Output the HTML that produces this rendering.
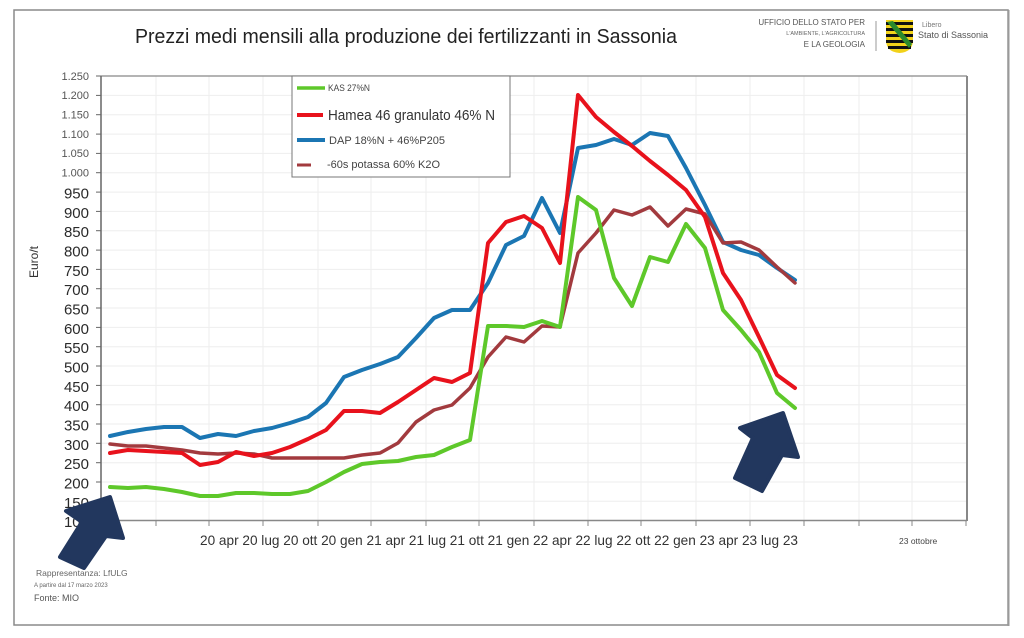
<!DOCTYPE html>
<html><head><meta charset="utf-8"><style>
html,body{margin:0;padding:0;background:#fff;}
svg{display:block;font-family:"Liberation Sans",sans-serif;}
</style></head><body>
<svg width="1024" height="638" viewBox="0 0 1024 638" xmlns="http://www.w3.org/2000/svg">
<rect x="0" y="0" width="1024" height="638" fill="#fff"/>
<!-- outer frame -->
<rect x="14" y="10" width="994" height="615" fill="none" stroke="#8a8a8a" stroke-width="1.5"/>
<line x1="1008.5" y1="10" x2="1008.5" y2="626" stroke="#9a9a9a" stroke-width="2"/>
<!-- title -->
<text x="135" y="43" font-size="20" fill="#222" textLength="542" lengthAdjust="spacingAndGlyphs">Prezzi medi mensili alla produzione dei fertilizzanti in Sassonia</text>
<!-- logo -->
<text x="865" y="25" font-size="8" fill="#555" text-anchor="end">UFFICIO DELLO STATO PER</text>
<text x="865" y="35" font-size="5.5" fill="#666" text-anchor="end">L'AMBIENTE, L'AGRICOLTURA</text>
<text x="865" y="47" font-size="8" fill="#555" text-anchor="end">E LA GEOLOGIA</text>
<line x1="876" y1="21" x2="876" y2="51" stroke="#999" stroke-width="1"/>
<g>
<path d="M886 20 H913 V40 Q913 52 899.5 53 Q886 52 886 40 Z" fill="#f2d21a"/>
<rect x="886" y="22" width="27" height="3" fill="#111"/>
<rect x="886" y="28" width="27" height="3" fill="#111"/>
<rect x="886" y="34" width="27" height="3" fill="#111"/>
<rect x="886" y="40" width="27" height="3" fill="#111"/>
<rect x="888" y="46" width="23" height="3" fill="#111"/>
<path d="M887 22 L893 21 L912 44 L909 48 Z" fill="#2c8a2c"/>
</g>
<text x="922" y="27" font-size="7" fill="#777">Libero</text>
<text x="918" y="38" font-size="9" fill="#555">Stato di Sassonia</text>
<!-- grid -->
<g stroke="#eeeeee" stroke-width="1">
<line x1="101" y1="95.4" x2="966" y2="95.4"/><line x1="101" y1="114.7" x2="966" y2="114.7"/><line x1="101" y1="134.1" x2="966" y2="134.1"/><line x1="101" y1="153.4" x2="966" y2="153.4"/><line x1="101" y1="172.7" x2="966" y2="172.7"/><line x1="101" y1="192.1" x2="966" y2="192.1"/><line x1="101" y1="211.4" x2="966" y2="211.4"/><line x1="101" y1="230.7" x2="966" y2="230.7"/><line x1="101" y1="250.1" x2="966" y2="250.1"/><line x1="101" y1="269.4" x2="966" y2="269.4"/><line x1="101" y1="288.7" x2="966" y2="288.7"/><line x1="101" y1="308" x2="966" y2="308"/><line x1="101" y1="327.4" x2="966" y2="327.4"/><line x1="101" y1="346.7" x2="966" y2="346.7"/><line x1="101" y1="366" x2="966" y2="366"/><line x1="101" y1="385.4" x2="966" y2="385.4"/><line x1="101" y1="404.7" x2="966" y2="404.7"/><line x1="101" y1="424" x2="966" y2="424"/><line x1="101" y1="443.3" x2="966" y2="443.3"/><line x1="101" y1="462.7" x2="966" y2="462.7"/><line x1="101" y1="482" x2="966" y2="482"/><line x1="101" y1="501.3" x2="966" y2="501.3"/>
<line x1="156" y1="76" x2="156" y2="520"/><line x1="209" y1="76" x2="209" y2="520"/><line x1="263" y1="76" x2="263" y2="520"/><line x1="318" y1="76" x2="318" y2="520"/><line x1="371" y1="76" x2="371" y2="520"/><line x1="426" y1="76" x2="426" y2="520"/><line x1="479" y1="76" x2="479" y2="520"/><line x1="534" y1="76" x2="534" y2="520"/><line x1="588" y1="76" x2="588" y2="520"/><line x1="641" y1="76" x2="641" y2="520"/><line x1="696" y1="76" x2="696" y2="520"/><line x1="750" y1="76" x2="750" y2="520"/><line x1="804" y1="76" x2="804" y2="520"/><line x1="859" y1="76" x2="859" y2="520"/><line x1="912" y1="76" x2="912" y2="520"/>
</g>
<!-- plot border -->
<line x1="101" y1="76" x2="967" y2="76" stroke="#888" stroke-width="1.2"/>
<line x1="967" y1="76" x2="967" y2="521" stroke="#888" stroke-width="2"/>
<line x1="101" y1="520.5" x2="967" y2="520.5" stroke="#888" stroke-width="1.5"/>
<line x1="101" y1="76" x2="101" y2="521" stroke="#666" stroke-width="1.5"/>
<!-- y ticks -->
<g stroke="#666" stroke-width="1">
<line x1="96" y1="76" x2="101" y2="76"/><line x1="96" y1="95.4" x2="101" y2="95.4"/><line x1="96" y1="114.7" x2="101" y2="114.7"/><line x1="96" y1="134.1" x2="101" y2="134.1"/><line x1="96" y1="153.4" x2="101" y2="153.4"/><line x1="96" y1="172.7" x2="101" y2="172.7"/><line x1="96" y1="192.1" x2="101" y2="192.1"/><line x1="96" y1="211.4" x2="101" y2="211.4"/><line x1="96" y1="230.7" x2="101" y2="230.7"/><line x1="96" y1="250.1" x2="101" y2="250.1"/><line x1="96" y1="269.4" x2="101" y2="269.4"/><line x1="96" y1="288.7" x2="101" y2="288.7"/><line x1="96" y1="308" x2="101" y2="308"/><line x1="96" y1="327.4" x2="101" y2="327.4"/><line x1="96" y1="346.7" x2="101" y2="346.7"/><line x1="96" y1="366" x2="101" y2="366"/><line x1="96" y1="385.4" x2="101" y2="385.4"/><line x1="96" y1="404.7" x2="101" y2="404.7"/><line x1="96" y1="424" x2="101" y2="424"/><line x1="96" y1="443.3" x2="101" y2="443.3"/><line x1="96" y1="462.7" x2="101" y2="462.7"/><line x1="96" y1="482" x2="101" y2="482"/><line x1="96" y1="501.3" x2="101" y2="501.3"/>
</g>
<!-- x ticks -->
<g stroke="#888" stroke-width="1">
<line x1="156" y1="520" x2="156" y2="526"/><line x1="209" y1="520" x2="209" y2="526"/><line x1="263" y1="520" x2="263" y2="526"/><line x1="318" y1="520" x2="318" y2="526"/><line x1="371" y1="520" x2="371" y2="526"/><line x1="426" y1="520" x2="426" y2="526"/><line x1="479" y1="520" x2="479" y2="526"/><line x1="534" y1="520" x2="534" y2="526"/><line x1="588" y1="520" x2="588" y2="526"/><line x1="641" y1="520" x2="641" y2="526"/><line x1="696" y1="520" x2="696" y2="526"/><line x1="750" y1="520" x2="750" y2="526"/><line x1="804" y1="520" x2="804" y2="526"/><line x1="859" y1="520" x2="859" y2="526"/><line x1="912" y1="520" x2="912" y2="526"/><line x1="966" y1="520" x2="966" y2="526"/>
</g>
<!-- y labels -->
<g font-size="11" fill="#555" text-anchor="end">
<text x="89" y="80">1.250</text><text x="89" y="99">1.200</text><text x="89" y="118.5">1.150</text><text x="89" y="138">1.100</text><text x="89" y="157">1.050</text><text x="89" y="176.5">1.000</text>
</g>
<g font-size="15" fill="#2a2a2a" text-anchor="end">
<text x="89" y="198.5">950</text><text x="89" y="218">900</text><text x="89" y="237">850</text><text x="89" y="256.5">800</text><text x="89" y="276">750</text><text x="89" y="295">700</text><text x="89" y="314.5">650</text><text x="89" y="334">600</text><text x="89" y="353">550</text><text x="89" y="372.5">500</text><text x="89" y="392">450</text><text x="89" y="411">400</text><text x="89" y="430.5">350</text><text x="89" y="450">300</text><text x="89" y="469">250</text><text x="89" y="488.5">200</text><text x="89" y="508">150</text><text x="89" y="527">100</text>
</g>
<text transform="translate(38,262) rotate(-90)" font-size="12" fill="#333" text-anchor="middle">Euro/t</text>
<!-- x labels -->
<text x="99" y="545" font-size="14" fill="#333">r</text>
<text x="200" y="545" font-size="14" fill="#333" textLength="598" lengthAdjust="spacingAndGlyphs">20 apr 20 lug 20 ott 20 gen 21 apr 21 lug 21 ott 21 gen 22 apr 22 lug 22 ott 22 gen 23 apr 23 lug 23</text>
<text x="899" y="544" font-size="8.5" fill="#444">23 ottobre</text>
<!-- series -->
<g fill="none" stroke-width="4" stroke-linejoin="round" stroke-linecap="round">
<polyline stroke="#1b76b3" points="110,436 128,432 146,429 164,427 182,427 200,438 218,434 236,436 254,431 272,428 290,423 308,417 326,403 344,377 362,370 380,364 398,357 416,338 434,318 452,310 470,310 488,283 506,245 524,236 542,198 560,233 578,148 596,145 614,139 632,145 650,133 668,136 686,168 705,205 723,242 741,250 759,255 777,268 795,280"/>
<polyline stroke="#a23a3e" stroke-width="3.5" points="110,444 128,446 146,446 164,448 182,450 200,453 218,454 236,453 254,454 272,458 290,458 308,458 326,458 344,458 362,455 380,453 398,443 416,422 434,410 452,405 470,388 488,357 506,337 524,342 542,326 560,327 578,253 596,233 614,210 632,215 650,207 668,226 686,209 705,214 723,243 741,242 759,250 777,267 795,283"/>
<polyline stroke="#e8121c" points="110,453 128,450 146,451 164,452 182,453 200,465 218,462 236,452 254,456 272,453 290,447 308,439 326,430 344,411 362,411 380,413 398,402 416,390 434,378 452,382 470,373 488,243 506,222 524,216 542,228 560,263 578,95 596,117 614,132 632,146 650,161 668,175 686,190 705,217 723,273 741,300 759,337 777,375 795,388"/>
<polyline stroke="#5ec82a" points="110,487 128,488 146,487 164,489 182,492 200,496 218,496 236,493 254,493 272,494 290,494 308,491 326,482 344,472 362,464 380,462 398,461 416,457 434,455 452,447 470,440 488,326 506,326 524,327 542,321 560,327 578,197 596,210 614,278 632,306 650,257 668,262 686,224 705,248 723,310 741,330 759,352 777,393 795,408"/>
</g>
<!-- legend -->
<rect x="292" y="76" width="218" height="101" fill="#fff" stroke="#777" stroke-width="1"/>
<line x1="297" y1="88" x2="325" y2="88" stroke="#5ec82a" stroke-width="3.5"/>
<text x="328" y="91" font-size="9" fill="#444" textLength="42" lengthAdjust="spacingAndGlyphs">KAS 27%N</text>
<line x1="297" y1="115" x2="323" y2="115" stroke="#e8121c" stroke-width="4"/>
<text x="328" y="120" font-size="15" fill="#333" textLength="167" lengthAdjust="spacingAndGlyphs">Hamea 46 granulato 46% N</text>
<line x1="297" y1="140" x2="325" y2="140" stroke="#1b76b3" stroke-width="4"/>
<text x="329" y="144" font-size="11" fill="#444" textLength="116" lengthAdjust="spacingAndGlyphs">DAP 18%N + 46%P205</text>
<line x1="297" y1="165" x2="311" y2="165" stroke="#a23a3e" stroke-width="3"/>
<text x="327" y="168" font-size="11" fill="#444" textLength="113" lengthAdjust="spacingAndGlyphs">-60s potassa 60% K2O</text>
<!-- arrows -->
<g fill="#22375e" stroke="#22375e" stroke-width="4" stroke-linejoin="round">
<polygon points="783,413 798,457 782,455 762,491 735,478 753,438 740,428"/>
<polygon points="110,497 123,538 106,536 84,568 60,557 82,522 66,511"/>
</g>
<!-- footer -->
<text x="36" y="576" font-size="8.5" fill="#666">Rappresentanza: LfULG</text>
<text x="34" y="587" font-size="6" fill="#666">A partire dal 17 marzo 2023</text>
<text x="34" y="601" font-size="9" fill="#555">Fonte: MIO</text>
</svg>
</body></html>
